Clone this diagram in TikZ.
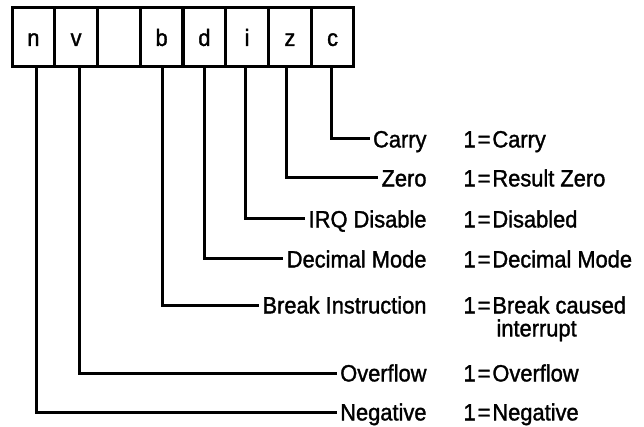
\documentclass[tikz,border=0pt]{standalone}
\usepackage{fontspec}
\setmainfont{Liberation Sans}[FakeStretch=0.93,FakeBold=1.4]
\begin{document}
\begin{tikzpicture}[x=1pt,y=-1pt,line width=3pt,
  txt/.style={font=\fontsize{23.5}{27}\selectfont, text height=16.8pt, text depth=0pt},
  cell/.style={draw, txt, minimum width=42.75pt, minimum height=59pt, inner sep=0pt},
  lbl/.style={txt, anchor=east, inner sep=2pt},
  val/.style={txt, anchor=west, inner sep=0pt},
  wire/.style={line width=3pt}]
\useasboundingbox (0,0) rectangle (644,427);
% register cells
\node[cell] (n) at (33.4,37.5) {n};
\node[cell] (v) at (76.1,37.5) {v};
\node[cell] (u) at (118.9,37.5) {};
\node[cell] (b) at (161.6,37.5) {b};
\node[cell] (d) at (204.4,37.5) {d};
\node[cell] (i) at (247.1,37.5) {i};
\node[cell] (z) at (289.9,37.5) {z};
\node[cell] (c) at (332.6,37.5) {c};
% labels
\node[lbl] (carry) at (430,139) {Carry};
\node[lbl] (zero) at (430,178) {Zero};
\node[lbl] (irq) at (430,219) {IRQ Disable};
\node[lbl] (dec) at (430,259) {Decimal Mode};
\node[lbl] (brk) at (430,305) {Break Instruction};
\node[lbl] (ovf) at (430,373) {Overflow};
\node[lbl] (neg) at (430,412) {Negative};
% values
\newcommand{\eqone}{1\hspace{2pt}=\hspace{2pt}}
\node[val] (carryv) at (462,139) {\eqone Carry};
\node[val] (zerov) at (462,178) {\eqone Result Zero};
\node[val] (irqv) at (462,219) {\eqone Disabled};
\node[val] (decv) at (462,259) {\eqone Decimal Mode};
\node[val] (brkv) at (462,305) {\eqone Break caused};
\node[val] (brkv2) at (495,328) {interrupt};
\node[val] (ovfv) at (462,373) {\eqone Overflow};
\node[val] (negv) at (462,412) {\eqone Negative};
% connectors
\draw[wire] ([xshift=-1.5pt]c.south) |- (carry.west);
\draw[wire] ([xshift=-3pt]z.south) |- (zero.west);
\draw[wire] ([xshift=-2pt]i.south) |- (irq.west);
\draw[wire] (d.south) |- (dec.west);
\draw[wire] ([xshift=0.5pt]b.south) |- (brk.west);
\draw[wire] ([xshift=3pt]v.south) |- (ovf.west);
\draw[wire] ([xshift=3.5pt]n.south) |- (neg.west);
\end{tikzpicture}
\end{document}
